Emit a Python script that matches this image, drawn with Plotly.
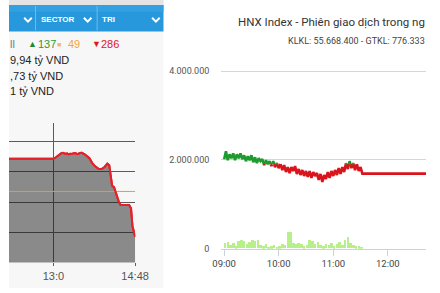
import plotly.graph_objects as go

W, H = 440, 293


def px(x):
    return x / W


def py(y):
    return 1 - y / H


# ---------------- data ----------------
# left chart: session minutes after 09:00 (lunch break removed) and index values
left_minutes = [91.2, 120, 150, 153.8, 157.5, 160, 162.5, 164.5, 166.3, 168, 170.0, 172,
                173.8, 176, 178.8, 180.5, 182.5, 185, 187.5, 191.3, 197.6, 201.3, 205.1,
                210.1, 213.8, 217.6, 221.3, 223.8, 225.7, 227.6, 230.1, 232.6, 236.3,
                238.8, 250.1, 252.6, 254.5, 258]
left_values = [81.43, 81.43, 81.43, 81.49, 81.57, 81.61, 81.63, 81.60, 81.59, 81.61, 81.58,
               81.60, 81.59, 81.61, 81.62, 81.60, 81.59, 81.62, 81.63, 81.58, 81.45, 81.29,
               81.18, 81.09, 81.09, 81.16, 81.27, 81.22, 80.90, 80.54, 80.49, 80.28, 80.02,
               79.90, 79.90, 79.79, 79.21, 78.85]
left_ref = 80.35
left_tick_vals = [150, 258]
left_tick_text = ["13:0", "14:48"]

# right chart: HNX intraday index (every 2 minutes 09:00-11:30, then lunch flat)
hnx_values = [80.125, 80.325, 80.100, 80.250, 80.150, 80.275,
              80.100, 80.250, 80.150, 80.275, 80.125,
              80.225, 80.075, 80.200, 80.100, 80.225,
              80.050, 80.175, 80.025, 80.150, 80.075,
              80.125, 79.975, 80.100, 80.000, 80.075,
              79.950, 80.075, 79.925, 80.025, 79.900,
              80.000, 79.850, 79.975, 79.800, 79.925,
              79.775, 79.925, 79.825, 79.950, 79.750,
              79.875, 79.725, 79.850, 79.700, 79.825,
              79.675, 79.825, 79.650, 79.800, 79.700,
              79.775, 79.600, 79.750, 79.550, 79.725,
              79.625, 79.800, 79.650, 79.825, 79.700,
              79.850, 79.725, 79.900, 79.750, 79.925,
              79.800, 80.025, 79.875, 80.075, 79.900,
              80.025, 79.850, 80.000, 79.825, 79.925]
hnx_times = [9 + 2 * i / 60 for i in range(len(hnx_values))]
lunch_times = [11 + 32 / 60, 13.0]
lunch_values = [79.76, 79.76]
hnx_ref = 80.0

# volume bars every 3 minutes
vol_values = [111000, 133000, 67000, 111000, 44000, 156000, 178000, 156000, 89000, 133000,
              178000, 156000, 178000, 67000, 44000, 89000, 22000, 44000, 67000, 22000,
              44000, 89000, 67000, 378000, 356000, 111000, 89000, 111000, 89000, 44000,
              67000, 178000, 156000, 89000, 133000, 67000, 44000, 89000, 67000, 111000,
              44000, 89000, 133000, 67000, 178000, 244000, 111000, 67000, 44000, 44000,
              22000]
vol_times = [9 + 3 * i / 60 for i in range(len(vol_values))]

right_tick_vals = [9, 10, 11, 12, 13]
right_tick_text = ["09:00", "10:00", "11:00", "12:00", "13:00"]
vol_tick_vals = [0, 2000000, 4000000]
vol_tick_text = ["0", "2.000.000", "4.000.000"]

title_text = "HNX Index - Phiên giao dịch trong ng"
subtitle_text = "KLKL: 55.668.400 - GTKL: 776.333"

# ---------------- helpers ----------------
GREEN = "#1f9a2e"
RED = "#d9141b"


def split_runs(xs, ys, ref):
    runs = []
    for i in range(len(xs) - 1):
        x0, y0, x1, y1 = xs[i], ys[i], xs[i + 1], ys[i + 1]
        if (y0 >= ref) != (y1 >= ref):
            t = (ref - y0) / (y1 - y0)
            xc = x0 + t * (x1 - x0)
            pieces = [(x0, y0, xc, ref), (xc, ref, x1, y1)]
        else:
            pieces = [(x0, y0, x1, y1)]
        for a, b, c, d in pieces:
            col = GREEN if (b + d) / 2 >= ref else RED
            if runs and runs[-1][0] == col:
                runs[-1][1].append(c)
                runs[-1][2].append(d)
            else:
                runs.append([col, [a, c], [b, d]])
    out = {GREEN: ([], []), RED: ([], [])}
    for col, rx, ry in runs:
        out[col][0].extend(rx + [None])
        out[col][1].extend(ry + [None])
    return out


fig = go.Figure()

# ---- left chart ----
fig.add_trace(go.Scatter(
    x=left_minutes, y=left_values, mode="lines",
    line=dict(color="#e3222a", width=2),
    fill="tozeroy", fillcolor="rgba(25,25,25,0.49)",
    xaxis="x", yaxis="y", hoverinfo="skip", showlegend=False))
fig.add_trace(go.Scatter(
    x=[left_minutes[0], left_minutes[-1]], y=[left_ref, left_ref], mode="lines",
    line=dict(color="#d7a23e", width=1), xaxis="x", yaxis="y",
    hoverinfo="skip", showlegend=False))
fig.add_trace(go.Scatter(
    x=left_minutes, y=left_values, mode="lines",
    line=dict(color="#e3222a", width=2),
    xaxis="x", yaxis="y", hoverinfo="skip", showlegend=False))

# ---- right chart ----
fig.add_trace(go.Bar(
    x=vol_times, y=vol_values, width=0.046, offset=0,
    marker=dict(color="#b7ef8a", line=dict(width=0)),
    xaxis="x2", yaxis="y2", hoverinfo="skip", showlegend=False))

all_t = hnx_times + lunch_times
all_v = hnx_values + lunch_values
segs = split_runs(all_t, all_v, hnx_ref)
for col in (RED, GREEN):
    fig.add_trace(go.Scatter(
        x=segs[col][0], y=segs[col][1], mode="lines",
        line=dict(color=col, width=2.6), connectgaps=False,
        xaxis="x2", yaxis="y3", hoverinfo="skip", showlegend=False))

NARROW = "Roboto, Liberation Sans, sans-serif"
SANS = "Liberation Sans, Arial, sans-serif"

fig.update_layout(
    width=W, height=H, margin=dict(l=0, r=0, t=0, b=0),
    paper_bgcolor="white", plot_bgcolor="rgba(0,0,0,0)",
    bargap=0,
    xaxis=dict(domain=[0, px(133.3)], range=[91.2, 258.3],
               tickvals=left_tick_vals, ticktext=left_tick_text,
               showgrid=True, gridcolor="#5a5a5a", gridwidth=1,
               ticks="outside", ticklen=3, tickcolor="#5a5a5a",
               zeroline=False, showline=False,
               tickfont=dict(family=SANS, size=11, color="#555555")),
    yaxis=dict(domain=[py(267), py(125)], range=[78, 82.62],
               tickvals=[78, 79, 80, 81, 82], showticklabels=False,
               showgrid=True, gridcolor="#5a5a5a", gridwidth=1,
               zeroline=False, showline=False),
    xaxis2=dict(domain=[px(224), 1], range=[8.948, 12.70], anchor="y2",
                tickvals=right_tick_vals, ticktext=right_tick_text,
                showgrid=False, zeroline=False,
                showline=True, linecolor="#c9d3de", linewidth=1,
                ticks="outside", ticklen=6, tickcolor="#c9d3de",
                tickfont=dict(family=NARROW, size=9.5, color="#444444")),
    yaxis2=dict(domain=[py(253), py(63.5)], range=[0, 4200000], anchor="x2",
                tickvals=vol_tick_vals, ticktext=vol_tick_text,
                showgrid=True, gridcolor="#d6d6d6", gridwidth=1,
                zeroline=False, showline=False, ticks="",
                ticklabelstandoff=11,
                tickfont=dict(family=NARROW, size=9, color="#555555")),
    yaxis3=dict(overlaying="y2", anchor="x2", range=[77.85, 82.5875],
                visible=False, showgrid=False, zeroline=False),
)

shapes = []
shapes.append(dict(type="rect", xref="paper", yref="paper", x0=0, x1=px(163), y0=0, y1=1,
                   fillcolor="#f7f7f7", line=dict(width=0), layer="below"))
shapes.append(dict(type="rect", xref="paper", yref="paper", x0=0, x1=px(163), y0=py(5), y1=1,
                   fillcolor="#e4e4e4", line=dict(width=0), layer="below"))
shapes.append(dict(type="rect", xref="paper", yref="paper", x0=0, x1=px(163), y0=py(32), y1=py(5),
                   fillcolor="#2898dc", line=dict(width=0), layer="below"))
shapes.append(dict(type="rect", xref="paper", yref="paper", x0=0, x1=px(163), y0=py(12), y1=py(5),
                   fillcolor="#31a1e2", line=dict(width=0), layer="below"))
for dx in (28, 93):
    shapes.append(dict(type="line", xref="paper", yref="paper", x0=px(dx), x1=px(dx),
                       y0=py(31), y1=py(6), line=dict(color="#6cbdec", width=1), layer="below"))
for cx in (20, 83, 155):
    path = "M {} {} L {} {} L {} {}".format(px(cx - 4), py(18), px(cx), py(22), px(cx + 4), py(18))
    shapes.append(dict(type="path", xref="paper", yref="paper", path=path,
                       line=dict(color="white", width=2)))
fig.update_layout(shapes=shapes)

ann = []


def text(x, y, s, color, size, family=SANS, anchor="left", bold=False):
    if bold:
        s = "<b>" + s + "</b>"
    ann.append(dict(x=px(x), y=py(y), xref="paper", yref="paper", text=s, showarrow=False,
                    xanchor=anchor, yanchor="middle", borderpad=0,
                    font=dict(family=family, size=size, color=color)))


text(51.5, 20, "SECTOR", "white", 8, anchor="center", bold=True)
text(105, 20, "TRI", "white", 8, anchor="center", bold=True)
text(0, 45, "ll", "#6f7c8c", 11)
text(19, 45, "▲", "#1e8a2a", 9)
text(30, 45, "137", "#2e9a35", 11)
text(50, 45, "■", "#f6b37a", 7)
text(61, 45, "49", "#f2a640", 11)
text(87, 45, "▼", "#e01818", 9)
text(96, 45, "286", "#e01818", 11)
text(0, 61.5, "9,94 tỷ VND", "#222222", 11)
text(0, 77.5, ",73 tỷ VND", "#222222", 11)
text(0, 92.5, "1 tỷ VND", "#222222", 11)

text(439.5, 22, title_text, "#333333", 11.5, family=NARROW, anchor="right")
text(439.5, 42, subtitle_text, "#444444", 9, family=NARROW, anchor="right")
fig.update_layout(annotations=ann)

fig.write_html("out.html")
